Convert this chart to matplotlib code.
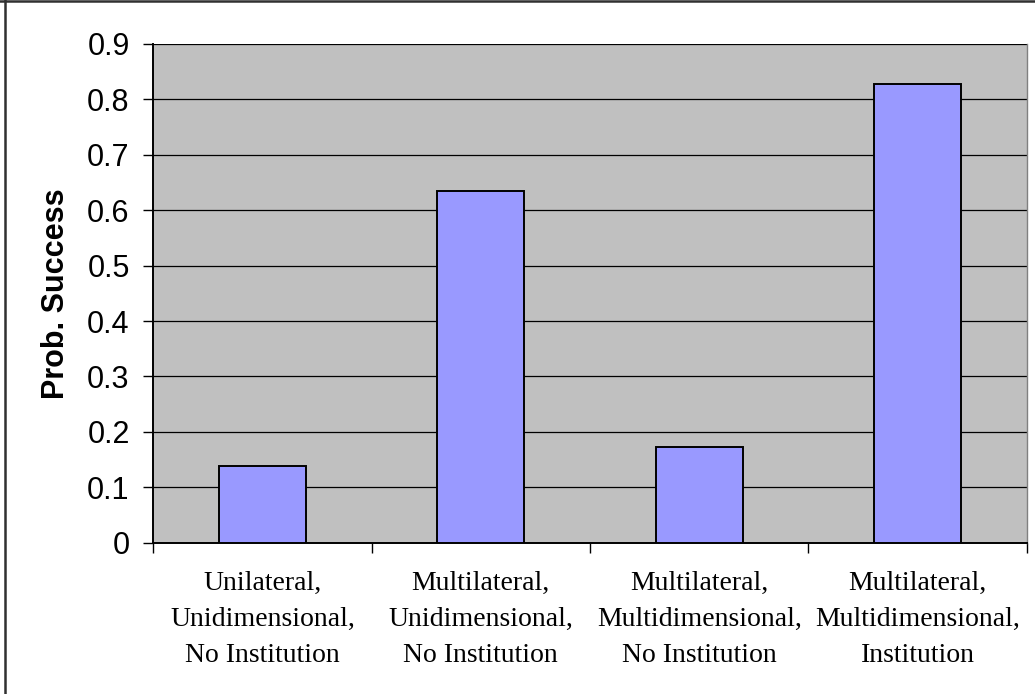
import matplotlib
matplotlib.use("Agg")
import matplotlib.pyplot as plt
from matplotlib.lines import Line2D
import numpy as np

# values read for each scenario
categories = [
    "Unilateral,\nUnidimensional,\nNo Institution",
    "Multilateral,\nUnidimensional,\nNo Institution",
    "Multilateral,\nMultidimensional,\nNo Institution",
    "Multilateral,\nMultidimensional,\nInstitution",
]
prob_success = [0.138, 0.635, 0.172, 0.828]
y_ticks = [0, 0.1, 0.2, 0.3, 0.4, 0.5, 0.6, 0.7, 0.8, 0.9]
y_tick_labels = ["0", "0.1", "0.2", "0.3", "0.4", "0.5", "0.6", "0.7", "0.8", "0.9"]

plt.rcParams["font.family"] = ["Liberation Sans", "DejaVu Sans"]

fig = plt.figure(figsize=(10.35, 6.94), dpi=100)
ax = fig.add_axes([0.1481, 0.218, 0.992 - 0.1481, 0.9366 - 0.218])
ax.set_facecolor("#C0C0C0")

x = np.arange(len(categories))
ax.bar(x, prob_success, width=0.4, color="#9999FF", edgecolor="black",
       linewidth=1.4, zorder=3)

# horizontal gridlines
for t in y_ticks:
    ax.axhline(t, color="black", linewidth=0.9, zorder=1)

ax.set_xlim(-0.5, len(categories) - 0.5)
ax.set_ylim(0, 0.9)

ax.set_yticks(y_ticks)
ax.set_yticklabels(y_tick_labels, fontsize=22)
ax.tick_params(axis="y", direction="out", length=7, width=1, pad=10)

# category labels centred under bars, tick marks between categories
ax.set_xticks(x)
ax.set_xticklabels(categories, fontsize=20, family=["Liberation Serif"],
                   linespacing=1.6)
ax.tick_params(axis="x", which="major", length=0, pad=20)
ax.set_xticks(np.arange(-0.5, len(categories)), minor=True)
ax.tick_params(axis="x", which="minor", direction="out", length=7, width=1)

ax.set_ylabel("Prob. Success", fontsize=22, fontweight="bold", labelpad=12)

ax.spines["left"].set_linewidth(1.4)
ax.spines["bottom"].set_linewidth(1.4)
ax.spines["top"].set_visible(False)
ax.spines["right"].set_color("#808080")
ax.spines["right"].set_linewidth(1)

# chart frame
fig.add_artist(Line2D([0.0045, 0.0045], [0, 1], transform=fig.transFigure,
                      color="#303030", linewidth=1.8))
fig.add_artist(Line2D([0, 1], [0.999, 0.999], transform=fig.transFigure,
                      color="#303030", linewidth=1.8))

fig.savefig("out.png", dpi=100)
